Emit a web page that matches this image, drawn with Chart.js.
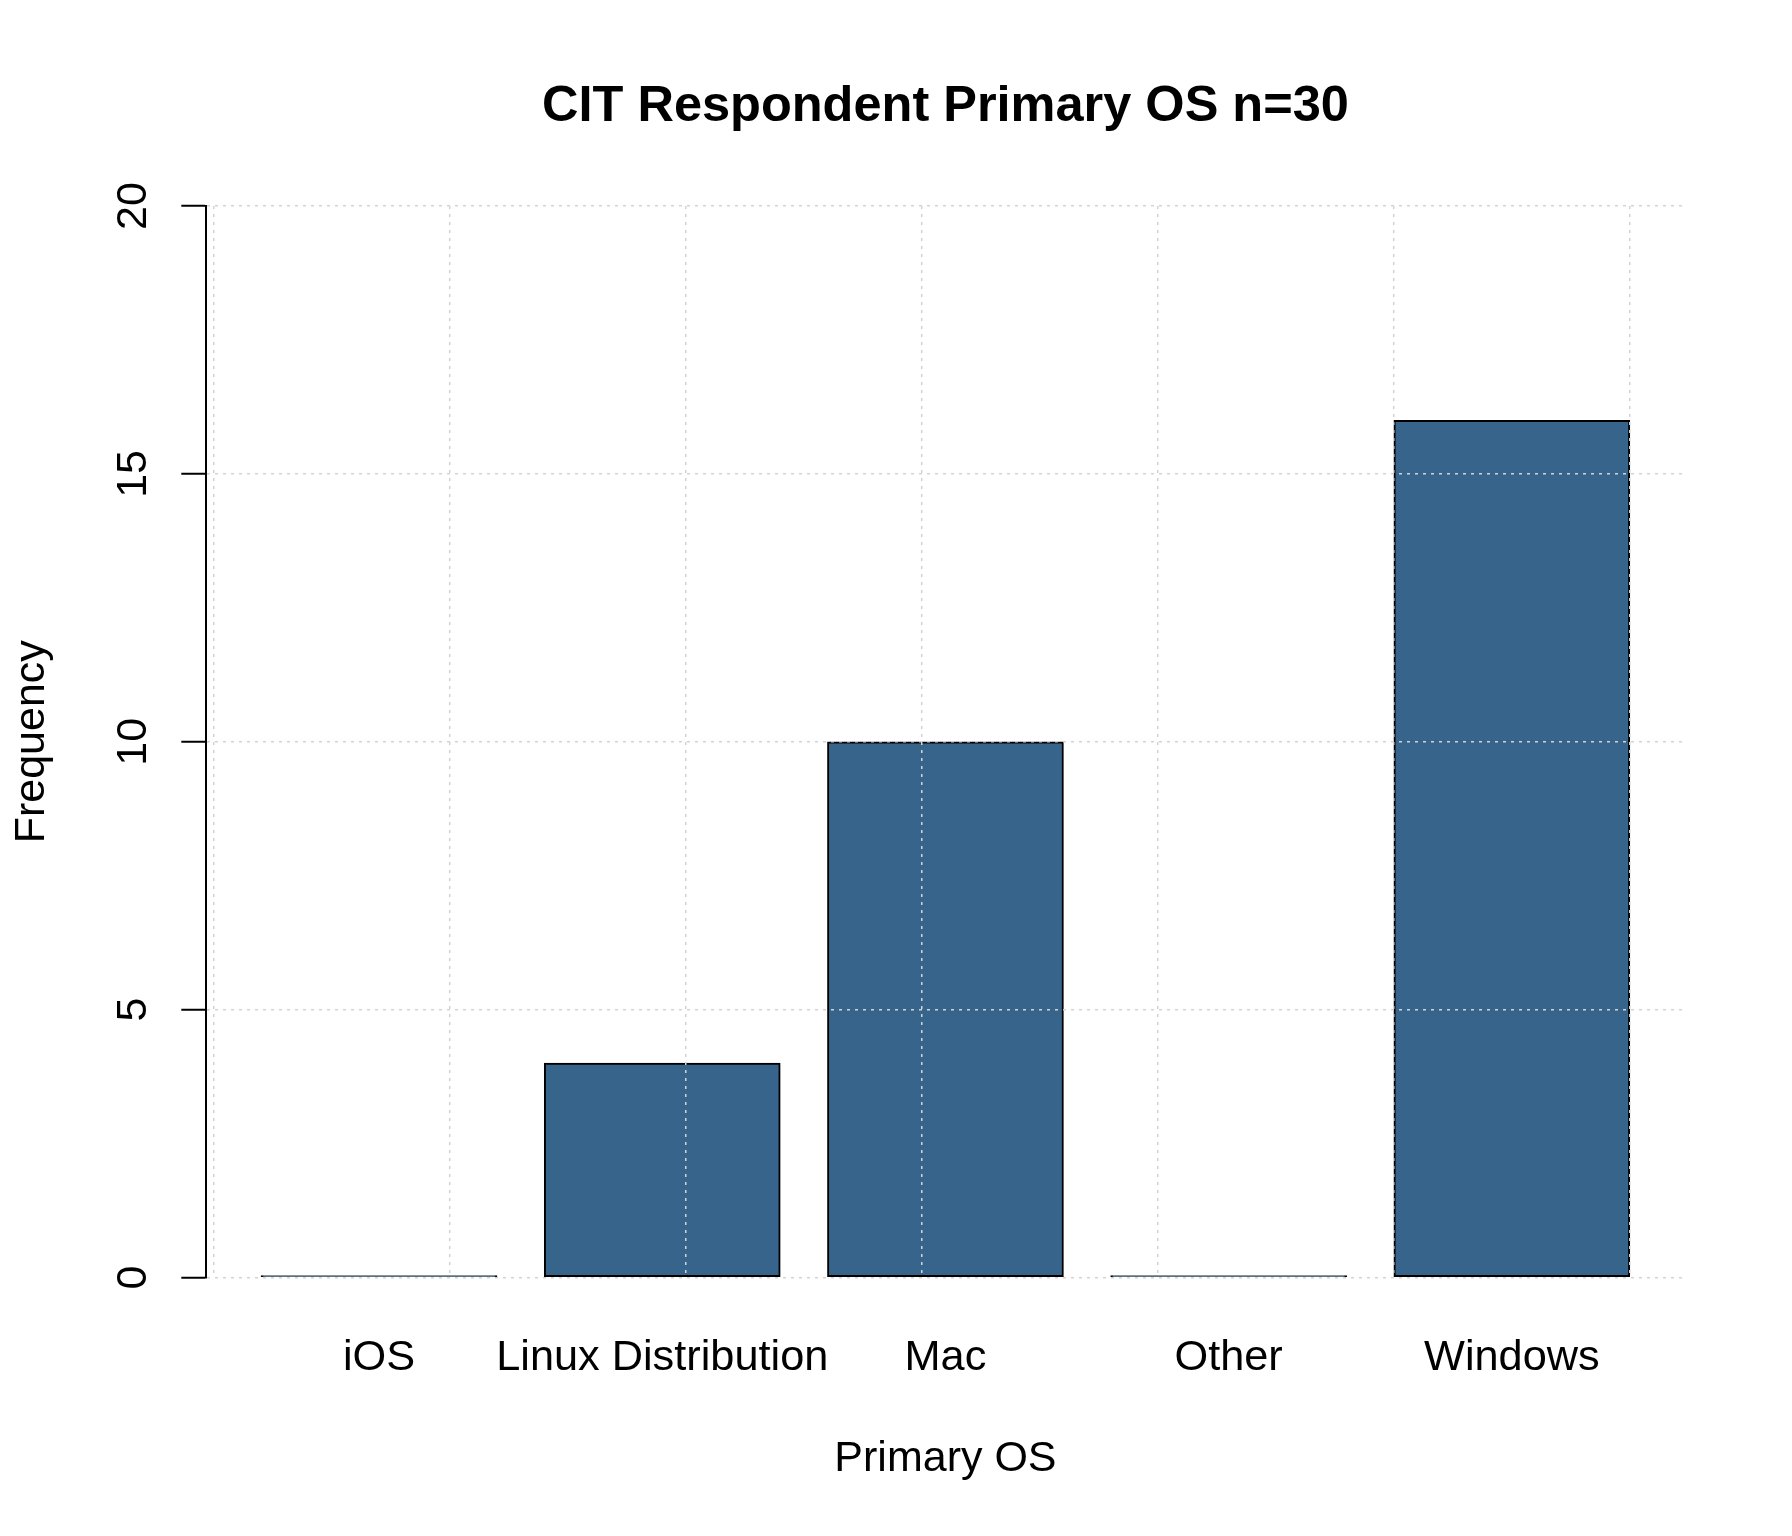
<!DOCTYPE html>
<html>
<head>
<meta charset="utf-8">
<script src="https://cdn.jsdelivr.net/npm/chart.js@4/dist/chart.umd.min.js"></script>
<style>
html, body { margin: 0; padding: 0; background: #ffffff; }
#wrap { width: 1792px; height: 1536px; }
</style>
</head>
<body>
<div id="wrap"><canvas id="c" width="1792" height="1536"></canvas></div>
<script>
// ---- data ----
const categories = ['iOS', 'Linux Distribution', 'Mac', 'Other', 'Windows'];
const frequencies = [0, 4, 10, 0, 16];
const yTickValues = [0, 5, 10, 15, 20];
const chartTitle = 'CIT Respondent Primary OS n=30';
const xAxisTitle = 'Primary OS';
const yAxisTitle = 'Frequency';

// ---- layout helpers (R barplot geometry: width 1, space 0.2) ----
const SPACE = 0.2, WIDTH = 1;
const centers = categories.map((_, i) => SPACE + WIDTH / 2 + i * (WIDTH + SPACE));
const lo = SPACE, hi = categories.length * (WIDTH + SPACE);
const xMin = lo - 0.04 * (hi - lo), xMax = hi + 0.04 * (hi - lo);
const gridX = [];
for (let v = 0; v <= Math.floor(xMax); v++) gridX.push(v);

const FAMILY = "'Liberation Sans', Arial, Helvetica, sans-serif";
Chart.defaults.font.family = FAMILY;
Chart.defaults.color = '#000000';

const GRID_COLOR = '#D3D3D3';
const DOT = [3, 5];

new Chart(document.getElementById('c'), {
  type: 'bar',
  data: {
    datasets: [{
      data: frequencies.map((v, i) => ({ x: centers[i], y: v })),
      backgroundColor: '#36648B',
      borderColor: '#000000',
      borderWidth: 2,
      borderSkipped: false,
      // grid ticks are one unit apart = one bar width
      barPercentage: 1,
      categoryPercentage: 1,
      minBarLength: 2,
      xAxisID: 'x',
      yAxisID: 'y'
    }]
  },
  options: {
    responsive: false,
    animation: false,
    devicePixelRatio: 1,
    layout: { padding: { left: 0, right: 107.4, top: 0, bottom: 0 } },
    plugins: {
      legend: { display: false },
      tooltip: { enabled: false },
      title: {
        display: true,
        text: chartTitle,
        fullSize: false,
        color: '#000000',
        font: { size: 50.5, weight: 'bold', family: FAMILY, lineHeight: 1.2 },
        padding: { top: 77.2, bottom: 68.2 }
      }
    },
    scales: {
      x: {
        type: 'linear',
        position: 'bottom',
        min: xMin,
        max: xMax,
        offset: false,
        afterBuildTicks: s => { s.ticks = gridX.map(v => ({ value: v })); },
        ticks: { display: false },
        grid: { display: true, offset: false, color: GRID_COLOR, lineWidth: 1.5, drawTicks: false, z: 1 },
        border: { display: false, dash: DOT },
        afterFit: s => { s.height = 0; }
      },
      xl: {
        type: 'linear',
        position: 'bottom',
        min: xMin,
        max: xMax,
        offset: false,
        afterBuildTicks: s => { s.ticks = centers.map(v => ({ value: v })); },
        ticks: {
          autoSkip: false,
          minRotation: 0,
          maxRotation: 0,
          padding: 54.1,
          color: '#000000',
          font: { size: 43.3, family: FAMILY },
          callback: (v, i) => categories[i]
        },
        grid: { display: false, drawTicks: false, offset: false },
        border: { display: false },
        title: {
          display: true,
          text: xAxisTitle,
          color: '#000000',
          font: { size: 43, family: FAMILY },
          padding: { top: 0, bottom: 51 }
        },
        afterFit: s => { s.height = 258.5; }
      },
      y: {
        type: 'linear',
        position: 'left',
        min: 0,
        max: 20,
        afterBuildTicks: s => { s.ticks = yTickValues.map(v => ({ value: v })); },
        ticks: {
          minRotation: 90,
          maxRotation: 90,
          crossAlign: 'center',
          padding: 23.5,
          color: '#000000',
          font: { size: 43, family: FAMILY }
        },
        grid: {
          color: GRID_COLOR,
          lineWidth: 1.5,
          tickLength: 25,
          tickColor: '#000000',
          tickWidth: 2,
          tickBorderDash: [],
          z: 1
        },
        border: { display: true, color: '#000000', width: 2, dash: DOT, z: 1 },
        title: {
          display: true,
          text: yAxisTitle,
          color: '#000000',
          font: { size: 43, family: FAMILY },
          padding: { top: 5.9, bottom: 0 }
        },
        afterFit: s => { s.width = 206.3; }
      }
    }
  }
});
</script>
</body>
</html>
